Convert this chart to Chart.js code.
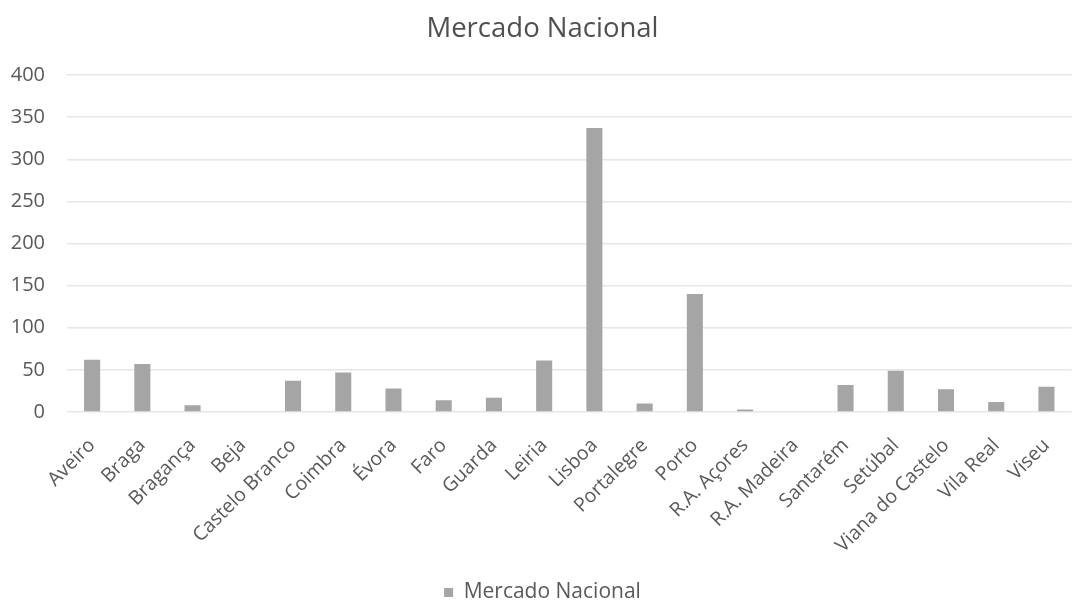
<!DOCTYPE html>
<html>
<head>
<meta charset="utf-8">
<script src="https://cdn.jsdelivr.net/npm/chart.js@4/dist/chart.umd.min.js"></script>
<style>
    html, body { margin: 0; padding: 0; background: #fff; overflow: hidden; }
    #wrap { width: 1085px; height: 613px; }
</style>
</head>
<body>
<div id="wrap"><canvas id="chart"></canvas></div>
<script>
const labels = ['Aveiro', 'Braga', 'Bragança', 'Beja', 'Castelo Branco', 'Coimbra', 'Évora', 'Faro', 'Guarda', 'Leiria',
    'Lisboa', 'Portalegre', 'Porto', 'R.A. Açores', 'R.A. Madeira', 'Santarém', 'Setúbal', 'Viana do Castelo', 'Vila Real', 'Viseu'];
const mercadoNacional = [62, 57, 8, 0, 37, 47, 28, 14, 17, 61, 337, 10, 140, 3, 0, 32, 49, 27, 12, 30];
const yTicks = [0, 50, 100, 150, 200, 250, 300, 350, 400];

const textColor = '#595959';
Chart.defaults.font.family = '"Open Sans", "Noto Sans", sans-serif';
Chart.defaults.color = textColor;

new Chart(document.getElementById('chart'), {
    type: 'bar',
    data: {
        labels,
        datasets: [{
            label: 'Mercado Nacional',
            data: mercadoNacional,
            backgroundColor: '#a5a5a5',
            categoryPercentage: 1,
            barPercentage: 0.32
        }]
    },
    options: {
        responsive: true,
        maintainAspectRatio: false,
        animation: false,
        layout: { padding: { left: 0, right: 0, top: 0, bottom: 0 } },
        plugins: {
            title: {
                display: true,
                text: 'Mercado Nacional',
                color: '#505050',
                font: { size: 27.5, weight: 'normal' },
                padding: { top: 13, bottom: 29 }
            },
            legend: {
                position: 'bottom',
                labels: {
                    boxWidth: 9, boxHeight: 9, padding: 4,
                    color: textColor,
                    font: { size: 21 }
                }
            },
            tooltip: { enabled: false }
        },
        scales: {
            x: {
                grid: { display: false, drawTicks: false },
                border: { display: false },
                ticks: {
                    minRotation: 45, maxRotation: 45, autoSkip: false,
                    padding: 22,
                    color: textColor,
                    font: { size: 19.5 }
                },
                afterFit: s => { s.height = 166; }
            },
            y: {
                min: 0, max: 400,
                afterBuildTicks: s => { s.ticks = yTicks.map(v => ({ value: v })); },
                grid: { color: '#e6e6e6', lineWidth: 1.5, drawTicks: false },
                border: { display: false },
                ticks: {
                    padding: 22,
                    color: textColor,
                    font: { size: 20 }
                },
                afterFit: s => { s.width = 67; }
            }
        }
    }
});
</script>
</body>
</html>
